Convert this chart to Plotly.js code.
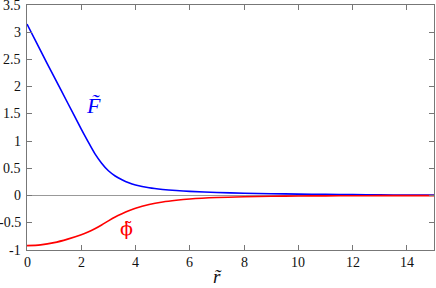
<!DOCTYPE html>
<html>
<head>
<meta charset="utf-8">
<script src="https://cdn.plot.ly/plotly-3.0.1.min.js"></script>
<style>html,body{margin:0;padding:0;background:#fff;}#chart{width:436px;height:288px;}</style>
</head>
<body>
<div id="chart"></div>
<script>
const r = [0,0.5,1,1.5,2,2.25,2.5,2.75,3,3.25,3.5,3.75,4,4.5,5,5.5,6,7,8,9,10,11,12,13,14,15];
const F = [3.15,2.66,2.18,1.70,1.22,0.99,0.77,0.595,0.455,0.36,0.29,0.235,0.195,0.142,0.112,0.092,0.077,0.057,0.043,0.034,0.027,0.021,0.017,0.013,0.010,0.008];
const phi = [-0.92,-0.905,-0.865,-0.80,-0.72,-0.67,-0.61,-0.54,-0.465,-0.395,-0.335,-0.28,-0.232,-0.163,-0.117,-0.086,-0.064,-0.037,-0.022,-0.013,-0.008,-0.005,-0.003,-0.002,-0.001,-0.001];
const xTicks = [0,2,4,6,8,10,12,14];
const xTickText = ["0","2","4","6","8","10","12","14"];
const yTicks = [-1,-0.5,0,0.5,1,1.5,2,2.5,3,3.5];
const yTickText = ["-1","-0.5","0","0.5","1","1.5","2","2.5","3","3.5"];

const serif = "Liberation Serif";
const tickFont = {family: serif, size: 14, color: '#111'};
const traces = [
  {x: r, y: F, mode: 'lines', line: {color: '#0000ff', width: 1.6, shape: 'spline', smoothing: 0.8}, hoverinfo: 'skip'},
  {x: r, y: phi, mode: 'lines', line: {color: '#ff0000', width: 1.6, shape: 'spline', smoothing: 0.8}, hoverinfo: 'skip'}
];
const xLabelAnns = xTicks.map((v, i) => ({
  x: v, y: 0, xref: 'x', yref: 'paper', yanchor: 'middle', yshift: -12,
  text: xTickText[i], showarrow: false, font: tickFont
}));
const yLabelAnns = yTicks.map((v, i) => ({
  x: 0, y: v, xref: 'paper', yref: 'y', xanchor: 'right', yanchor: 'middle', xshift: -4,
  text: yTickText[i], showarrow: false, font: tickFont
}));
const layout = {
  width: 436, height: 288,
  margin: {l: 27, r: 2, t: 5, b: 38},
  paper_bgcolor: '#fff', plot_bgcolor: '#fff',
  font: {family: serif, size: 14, color: '#111'},
  showlegend: false,
  xaxis: {
    showgrid: false, showline: true, linecolor: '#777', linewidth: 1, mirror: 'ticks',
    ticks: 'inside', ticklen: 5, tickcolor: '#777', tickwidth: 1,
    range: [0, 15], tickvals: xTicks, showticklabels: false, zeroline: false
  },
  yaxis: {
    showgrid: false, showline: true, linecolor: '#777', linewidth: 1, mirror: 'ticks',
    ticks: 'inside', ticklen: 5, tickcolor: '#777', tickwidth: 1,
    range: [-1, 3.5], tickvals: yTicks, showticklabels: false,
    zeroline: true, zerolinecolor: '#999', zerolinewidth: 1
  },
  annotations: xLabelAnns.concat(yLabelAnns, [
    {x: 0.467, y: -0.108, xref: 'paper', yref: 'paper', yanchor: 'middle', text: '<i>r\u0303</i>', showarrow: false,
     font: {family: serif, size: 19, color: '#111'}},
    {x: 2.45, y: 1.66, xref: 'x', yref: 'y', text: '<i>F\u0303</i>', showarrow: false,
     font: {family: serif, size: 22, color: '#0000ff'}},
    {x: 3.68, y: -0.6, xref: 'x', yref: 'y', text: '\u03d5\u0303', showarrow: false,
     font: {family: 'DejaVu Serif', size: 19, color: '#ff0000'}}
  ])
};
Plotly.newPlot('chart', traces, layout, {staticPlot: true, displayModeBar: false});
</script>
</body>
</html>
